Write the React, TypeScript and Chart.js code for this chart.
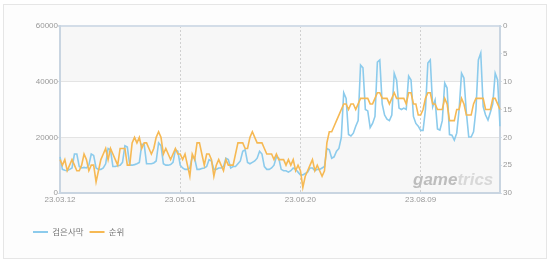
import React, { useEffect, useRef } from "react";
import { Chart, registerables } from "chart.js";

Chart.register(...registerables);

// ---- data ----
const START_DATE = "2023-03-12";
const DAY_COUNT = 184;
const TICK_EVERY = 50;
const SERIES_NAMES = ["검은사막", "순위"];
const Y_LEFT_TICKS = [0, 20000, 40000, 60000];
const Y_RIGHT_TICKS = [0, 5, 10, 15, 20, 25, 30];

// daily users (left axis)
const blackDesertValues = [
  13000, 8500, 8200, 8000, 8500, 9000, 14000, 14000, 9500, 9000,
  9200, 9000, 10000, 14000, 13500, 9000, 8500, 8500, 9000, 10500,
  16000, 15500, 9500, 9500, 9800, 10000, 11000, 17000, 16500, 10000,
  10000, 10200, 10500, 11000, 17500, 17500, 10500, 10500, 10500, 10800,
  11500, 18000, 17000, 10500, 10000, 10000, 10200, 11000, 15500, 15000,
  10000, 9000, 8500, 8500, 9000, 13000, 12500, 8500, 8500, 8800,
  9000, 9500, 12000, 11500, 8500, 8500, 9000, 9000, 9500, 12500,
  12000, 9000, 9500, 9500, 10500, 11500, 15000, 15500, 11000, 10500,
  11000, 11500, 12500, 15000, 14000, 9500, 8500, 8500, 9000, 10000,
  13000, 12500, 8500, 8000, 8000, 7500, 8000, 9000, 8500, 7500,
  6500, 6500, 7000, 7500, 9000, 9000, 8000, 8500, 8500, 9000,
  9500, 16000, 15500, 12500, 13000, 15000, 16000, 20000, 36000, 34000,
  21000, 20500, 21500, 24000, 26000, 46000, 45000, 30000, 29500, 23500,
  25000, 27500, 47000, 47800, 32000, 28000, 26500, 26000, 28000, 43000,
  40500, 30500, 30000, 30500, 30000, 42000, 40600, 27500, 25000, 24000,
  22500, 22500, 30000, 46700, 47800, 31000, 33400, 23000, 22600, 26000,
  39500, 37700, 21000, 20800, 19000, 21500, 30000, 43000, 41300, 29000,
  20100, 20100, 22000, 30000, 47800, 50300, 31000, 28000, 26200, 29000,
  32000, 43000, 40600, 24000,
];

// rank (right axis, reversed)
const rankValues = [
  24, 25, 24, 26, 25, 24, 25, 26, 26, 25,
  23, 24, 26, 25, 25, 28, 26, 24, 23, 22,
  24, 22, 23, 24, 25, 22, 22, 22, 25, 25,
  21, 20, 21, 20, 22, 21, 21, 22, 23, 22,
  20, 19, 20, 23, 22, 23, 24, 23, 22, 23,
  23, 24, 23, 25, 27, 23, 24, 21, 21, 23,
  25, 23, 23, 24, 27, 25, 24, 25, 26, 24,
  25, 25, 25, 23, 21, 21, 21, 22, 22, 20,
  19, 20, 21, 21, 21, 22, 23, 23, 23, 24,
  23, 24, 24, 24, 25, 24, 25, 24, 26, 25,
  26, 29, 27, 26, 25, 24, 26, 25, 26, 27,
  26, 21, 19, 19, 18, 17, 16, 15, 14, 14,
  15, 14, 14, 15, 14, 13, 13, 13, 13, 14,
  14, 13, 12, 12, 13, 13, 13, 14, 13, 12,
  13, 13, 13, 13, 14, 12, 12, 14, 14, 16,
  16, 15, 13, 12, 12, 14, 14, 15, 15, 15,
  13, 14, 17, 17, 17, 15, 15, 13, 14, 16,
  16, 16, 14, 13, 13, 13, 13, 15, 15, 15,
  13, 13, 14, 15,
];

function buildDateLabels(): string[] {
  const [y, m, d] = START_DATE.split("-").map(Number);
  const base = Date.UTC(y, m - 1, d);
  const out: string[] = [];
  for (let i = 0; i < DAY_COUNT; i++) {
    const dt = new Date(base + i * 86400000);
    const yy = String(dt.getUTCFullYear() % 100).padStart(2, "0");
    const mm = String(dt.getUTCMonth() + 1).padStart(2, "0");
    const dd = String(dt.getUTCDate()).padStart(2, "0");
    out.push(`${yy}.${mm}.${dd}`);
  }
  return out;
}
const dateLabels = buildDateLabels();

const BLUE = "#8ccbec";
const ORANGE = "#f6b954";
const AXIS = "#c9d5e1";
const TICK_FONT = { family: '"Liberation Sans", Arial, sans-serif', size: 8 };

const bandPlugin = {
  id: "bands",
  beforeDraw(chart: any) {
    const { ctx, chartArea } = chart;
    const y = chart.scales.y;
    if (!chartArea || !y) return;
    ctx.save();
    ctx.fillStyle = "#f7f7f7";
    ctx.fillRect(chartArea.left, chartArea.top, chartArea.right - chartArea.left, chartArea.bottom - chartArea.top);
    const t = y.getPixelForValue(Y_LEFT_TICKS[2]);
    const b = y.getPixelForValue(Y_LEFT_TICKS[1]);
    ctx.fillStyle = "#ffffff";
    ctx.fillRect(chartArea.left, t, chartArea.right - chartArea.left, b - t);
    ctx.restore();
  },
  beforeDatasetsDraw(chart: any) {
    const { ctx, chartArea } = chart;
    ctx.save();
    ctx.font = 'italic bold 17px "Liberation Sans", Arial, sans-serif';
    ctx.textBaseline = "alphabetic";
    const x0 = chartArea.right - 87;
    const yb = chartArea.bottom - 8;
    ctx.fillStyle = "#bdbdbd";
    ctx.fillText("game", x0, yb);
    const w = ctx.measureText("game").width;
    ctx.fillStyle = "#d8d8d8";
    ctx.fillText("trics", x0 + w, yb);
    ctx.restore();
  },
};

export default function App() {
  const ref = useRef<HTMLCanvasElement | null>(null);

  useEffect(() => {
    if (!ref.current) return;
    const chart = new Chart(ref.current, {
      type: "line",
      data: {
        labels: dateLabels,
        datasets: [
          {
            label: SERIES_NAMES[0],
            data: blackDesertValues,
            borderColor: BLUE,
            backgroundColor: BLUE,
            borderWidth: 1.6,
            pointRadius: 0,
            tension: 0,
            yAxisID: "y",
            order: 1,
          },
          {
            label: SERIES_NAMES[1],
            data: rankValues,
            borderColor: ORANGE,
            backgroundColor: ORANGE,
            borderWidth: 1.6,
            pointRadius: 0,
            tension: 0,
            yAxisID: "y1",
            order: 0,
          },
        ],
      },
      options: {
        responsive: false,
        animation: false,
        devicePixelRatio: 1,
        layout: { padding: { left: 27, right: 0, top: 26, bottom: 19.75 } },
        plugins: {
          tooltip: { enabled: false },
          legend: {
            position: "bottom",
            align: "start",
            labels: {
              boxWidth: 15,
              boxHeight: 2,
              padding: 6,
              color: "#777",
              font: { family: '"Noto Sans CJK KR", sans-serif', size: 8.5 },
              generateLabels: (c: any) =>
                c.data.datasets.map((ds: any, i: number) => ({
                  text: ds.label,
                  fillStyle: ds.borderColor,
                  strokeStyle: ds.borderColor,
                  lineWidth: 0,
                  hidden: false,
                  datasetIndex: i,
                  fontColor: "#777",
                })),
            },
          },
        },
        scales: {
          x: {
            type: "category",
            offset: false,
            afterBuildTicks: (s: any) => {
              s.ticks = s.ticks.filter((t: any) => t.value % TICK_EVERY === 0);
            },
            afterFit: (s: any) => {
              s.height = 28.75;
            },
            ticks: {
              autoSkip: false,
              maxRotation: 0,
              minRotation: 0,
              padding: 2,
              color: "#999",
              font: TICK_FONT,
            },
            grid: { display: true, drawTicks: false, color: "#d0d0d0", lineWidth: 1 },
            border: { display: true, color: AXIS, width: 2, dash: [2, 2] },
          },
          y: {
            position: "left",
            min: 0,
            max: 60000,
            afterBuildTicks: (s: any) => {
              s.ticks = Y_LEFT_TICKS.map((v) => ({ value: v }));
            },
            afterFit: (s: any) => {
              s.width = 33;
            },
            ticks: { padding: 0, color: "#999", font: TICK_FONT, callback: (v: any) => String(v) },
            grid: {
              drawTicks: true,
              tickLength: 2,
              tickColor: "#d5dde6",
              color: (c: any) =>
                c.tick && c.tick.value === 60000 ? "#d3dde8" : c.tick && c.tick.value === 0 ? "rgba(0,0,0,0)" : "#e4e4e4",
              lineWidth: (c: any) => (c.tick && c.tick.value === 60000 ? 2 : 1),
            },
            border: { display: true, color: AXIS, width: 2 },
          },
          y1: {
            position: "right",
            reverse: true,
            min: 0,
            max: 30,
            afterBuildTicks: (s: any) => {
              s.ticks = Y_RIGHT_TICKS.map((v) => ({ value: v }));
            },
            afterFit: (s: any) => {
              s.width = 50;
            },
            ticks: { padding: 1, color: "#999", font: TICK_FONT, callback: (v: any) => String(v) },
            grid: { drawOnChartArea: false, drawTicks: true, tickLength: 2, tickColor: "#d5dde6" },
            border: { display: true, color: AXIS, width: 2 },
          },
        },
      },
      plugins: [bandPlugin],
    } as any);
    return () => chart.destroy();
  }, []);

  return (
    <div style={{ position: "absolute", left: 0, top: 0, width: 550, height: 266, background: "#fff" }}>
      <div
        style={{
          position: "absolute",
          left: 3,
          top: 4,
          width: 544,
          height: 255,
          boxSizing: "border-box",
          border: "1px solid #e6e6e6",
          background: "#fdfdfd",
        }}
      />
      <canvas ref={ref} width={550} height={266} style={{ position: "absolute", left: 0, top: 0, width: 550, height: 266 }} />
    </div>
  );
}
